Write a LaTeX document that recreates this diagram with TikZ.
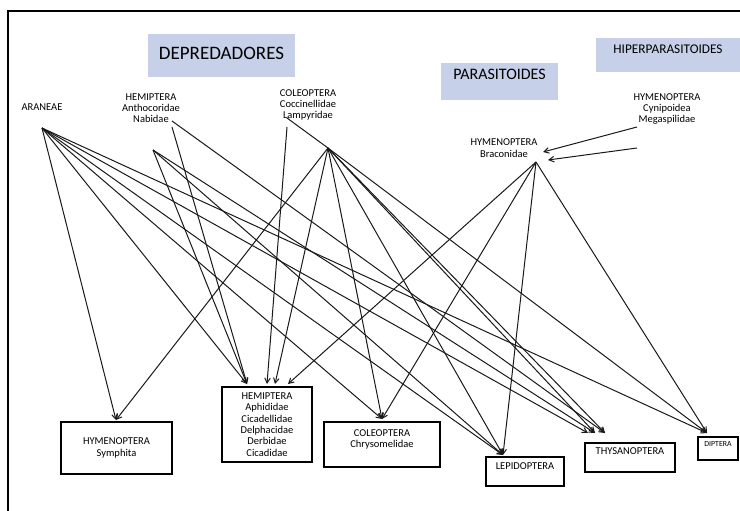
\documentclass[tikz,border=0pt]{standalone}
\usepackage{fontspec}
\setmainfont{Carlito}
\usetikzlibrary{positioning, arrows.meta}
\definecolor{titleblue}{RGB}{198,208,232}
\tikzset{
	taxon/.style={align=center, inner sep=0pt, font=\fontsize{10.5}{11.3}\selectfont},
	titlebox/.style={fill=titleblue, inner sep=0pt},
	preybox/.style={draw, line width=1.2pt, align=center, inner sep=0pt, font=\fontsize{10.5}{11.3}\selectfont},
	link/.style={line width=1pt, black!90},
}

\begin{document}
\begin{tikzpicture}[x=1pt, y=-1pt]
\useasboundingbox (0,0) rectangle (740,511);

% frame
\draw[line width=1.8pt] (8,520) -- (8,11) -- (750,11);

% group titles
\node (depred) [titlebox, minimum width=147pt, minimum height=43pt, text depth=4pt, font=\fontsize{19}{22}\selectfont] at (221.5,55.5) {DEPREDADORES};
\node (parasit) [titlebox, minimum width=117pt, minimum height=37pt, text depth=14pt, font=\fontsize{16}{19}\selectfont] at (499.5,81.5) {PARASITOIDES};
\node (hiperpar) [titlebox, minimum width=144pt, minimum height=34pt, text depth=12pt, font=\fontsize{13.3}{16}\selectfont] at (668,55) {HIPERPARASITOIDES};

% natural enemies
\node (araneae) [taxon] at (42,107) {ARANEAE};
\node (hemipred) [taxon] at (151,108) {HEMIPTERA\\Anthocoridae\\Nabidae};
\node (coleopred) [taxon] at (308,105) {COLEOPTERA\\Coccinellidae\\Lampyridae};
\node (braconid) [taxon] at (504,148) {HYMENOPTERA\\Braconidae};
\node (cynipoid) [taxon] at (667,109) {HYMENOPTERA\\Cynipoidea\\Megaspilidae};

% prey
\node (symphita) [preybox, minimum width=111pt, minimum height=52pt] at (116.5,448) {HYMENOPTERA\\Symphita};
\node (hemiprey) [preybox, minimum width=90pt, minimum height=75pt] at (267,424.5) {HEMIPTERA\\Aphididae\\Cicadellidae\\Delphacidae\\Derbidae\\Cicadidae};
\node (chrysom) [preybox, minimum width=116pt, minimum height=45pt, text depth=12pt] at (382,444.5) {COLEOPTERA\\Chrysomelidae};
\node (lepidop) [preybox, minimum width=78pt, minimum height=29pt, text depth=11pt, xshift=-3pt] at (528,471.5) {LEPIDOPTERA};
\node (thysan) [preybox, minimum width=90pt, minimum height=29pt, text depth=13pt] at (630,457.5) {THYSANOPTERA};
\node (diptera) [preybox, minimum width=40pt, minimum height=23pt, text depth=9pt, font=\fontsize{7.8}{9}\selectfont] at (718,448.5) {DIPTERA};

% line ends
\coordinate (aranhub) at (42,128);
\coordinate (hemihub) at (153,150);
\coordinate (nabid1) at (172,127);
\coordinate (nabid2) at (172,121);
\coordinate (lampy1) at (287,127);
\coordinate (lampy2) at (287,118);
\coordinate (coleohub) at (328,148);
\coordinate (bracohub) at (536,162);
\coordinate (cynip1) at (637,127);
\coordinate (cynip2) at (637,148);
\coordinate (bracin1) at (543,152);
\coordinate (bracin2) at (548,160);

\coordinate (tsym) at (116,420);
\coordinate (themi1) at (247,384);
\coordinate (themi2) at (267,384);
\coordinate (themi3) at (275,384);
\coordinate (themi4) at (288,384);
\coordinate (tchry) at (382,419);
\coordinate (tlepi) at (503,455);
\coordinate (tthys1) at (588,433);
\coordinate (tthys2) at (595,433);
\coordinate (tthys3) at (605,433);
\coordinate (tdipt) at (707,433);

\draw[link] (lampy2) -- (coleohub);

\begin{scope}[link, ->, >={Straight Barb[length=5pt, width=5.5pt]}]
	% ARANEAE
	\draw (aranhub) -- (tsym);
	\draw (aranhub) -- (themi1);
	\draw (aranhub) -- (tchry);
	\draw (aranhub) -- (tlepi);
	\draw (aranhub) -- (tthys1);
	\draw (aranhub) -- (tdipt);
	% HEMIPTERA predators
	\draw (nabid1) -- (themi1);
	\draw (nabid2) -- (tthys3);
	\draw (hemihub) -- (themi1);
	\draw (hemihub) -- (tlepi);
	\draw (hemihub) -- (tthys2);
	% COLEOPTERA predators
	\draw (lampy1) -- (themi2);
	\draw (coleohub) -- (tsym);
	\draw (coleohub) -- (themi3);
	\draw (coleohub) -- (tchry);
	\draw (coleohub) -- (tlepi);
	\draw (coleohub) -- (tthys2);
	\draw (coleohub) -- (tthys3);
	\draw (coleohub) -- (tdipt);
	% Braconidae
	\draw (bracohub) -- (themi4);
	\draw (bracohub) -- (tchry);
	\draw (bracohub) -- (tlepi);
	\draw (bracohub) -- (tdipt);
	% hyperparasitoids
	\draw (cynip1) -- (bracin1);
	\draw (cynip2) -- (bracin2);
\end{scope}
\end{tikzpicture}
\end{document}
